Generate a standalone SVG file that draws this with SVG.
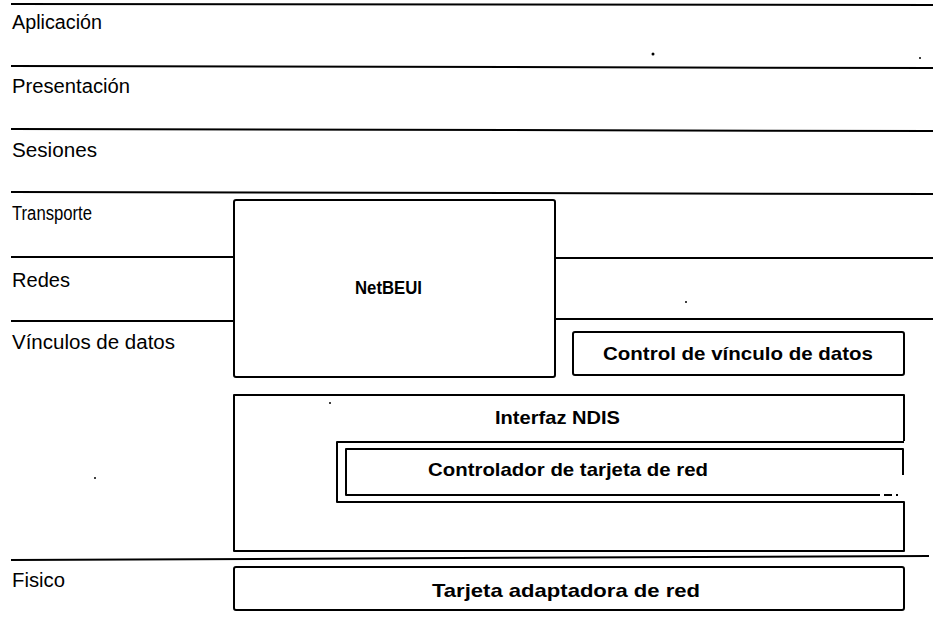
<svg xmlns="http://www.w3.org/2000/svg" width="933" height="617" viewBox="0 0 933 617">
<style>
.ln{stroke:#000;stroke-width:2;fill:none;stroke-linecap:square}
.box{stroke:#000;stroke-width:2;fill:none;stroke-linejoin:round}
.lbl{font-family:"Liberation Sans",Arial,sans-serif;font-size:20px;fill:#000}
.bl{font-family:"Liberation Sans",Arial,sans-serif;font-size:19px;font-weight:bold;fill:#000}
.dot{fill:#000}
</style>
<rect width="933" height="617" fill="#fff"/>
<g id="layer-lines">
<line class="ln" x1="12" y1="4" x2="932" y2="5"/>
<line class="ln" x1="12" y1="66" x2="932" y2="68"/>
<line class="ln" x1="12" y1="129" x2="932" y2="131"/>
<line class="ln" x1="12" y1="192" x2="932" y2="194"/>
<line class="ln" x1="12" y1="257" x2="234" y2="257"/>
<line class="ln" x1="555" y1="258" x2="932" y2="258"/>
<line class="ln" x1="12" y1="321" x2="234" y2="321"/>
<line class="ln" x1="555" y1="319" x2="932" y2="319"/>
<line class="ln" x1="12" y1="560" x2="928" y2="556"/>
</g>
<g id="layer-labels">
<text class="lbl" x="12" y="29" textLength="90" lengthAdjust="spacingAndGlyphs">Aplicación</text>
<text class="lbl" x="12" y="93" textLength="118" lengthAdjust="spacingAndGlyphs">Presentación</text>
<text class="lbl" x="12" y="157" textLength="85" lengthAdjust="spacingAndGlyphs">Sesiones</text>
<text class="lbl" x="12" y="220" textLength="80" lengthAdjust="spacingAndGlyphs">Transporte</text>
<text class="lbl" x="12" y="287" textLength="58" lengthAdjust="spacingAndGlyphs">Redes</text>
<text class="lbl" x="12" y="349" textLength="163" lengthAdjust="spacingAndGlyphs">Vínculos de datos</text>
<text class="lbl" x="12" y="587" textLength="53" lengthAdjust="spacingAndGlyphs">Fisico</text>
</g>
<g id="netbeui">
<rect class="box" x="234" y="200" width="321" height="177" rx="2"/>
<text class="bl" x="355" y="294" textLength="67" lengthAdjust="spacingAndGlyphs" font-size="17">NetBEUI</text>
</g>
<g id="control-vinculo">
<rect class="box" x="573" y="332" width="331" height="43" rx="2"/>
<text class="bl" x="603" y="360" textLength="270" lengthAdjust="spacingAndGlyphs">Control de vínculo de datos</text>
</g>
<g id="interfaz-ndis">
<path class="box" d="M904,441 V395 H234 V551 H904 V502 H337 V442 H904"/>
<text class="bl" x="495" y="424" textLength="125" lengthAdjust="spacingAndGlyphs">Interfaz NDIS</text>
</g>
<g id="controlador-tarjeta">
<path class="box" d="M903,475 V449 H346 V495 H880"/>
<path class="box" d="M884,495 H892 M896,495 H898" stroke-width="1.5"/>
<text class="bl" x="428" y="476" textLength="280" lengthAdjust="spacingAndGlyphs">Controlador de tarjeta de red</text>
</g>
<g id="tarjeta-adaptadora">
<rect class="box" x="234" y="567" width="670" height="43" rx="2"/>
<text class="bl" x="432" y="597" textLength="268" lengthAdjust="spacingAndGlyphs">Tarjeta adaptadora de red</text>
</g>
<g id="specks">
<circle class="dot" cx="653" cy="54" r="1.5"/>
<circle class="dot" cx="920" cy="58" r="1"/>
<circle class="dot" cx="686" cy="302" r="1"/>
<circle class="dot" cx="330" cy="403" r="1"/>
<circle class="dot" cx="95" cy="478" r="1"/>
</g>
</svg>
